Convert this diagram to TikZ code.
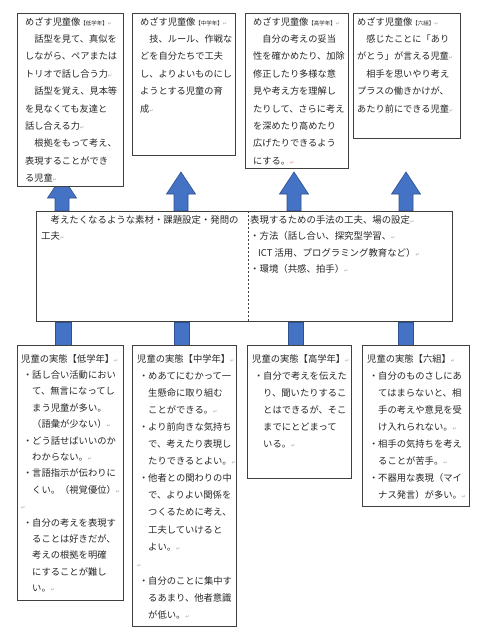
\documentclass[tikz,border=0pt]{standalone}
\usepackage{fontspec}
\newfontfamily\jp{Noto Sans CJK JP}
\newfontfamily\mkf{DejaVu Sans}
\usetikzlibrary{calc,backgrounds}
\definecolor{arrblue}{HTML}{4472C4}
\definecolor{arredge}{HTML}{2F528F}
\definecolor{boxline}{HTML}{404040}
\newcommand\pmk{{\mkf\fontsize{5}{5}\selectfont\textcolor{black!35}{↵}}}
\newcommand\pmkred{{\mkf\fontsize{5}{5}\selectfont\textcolor{red!60}{↵}}}
\newcommand\smk[1]{{\fontsize{5.5}{5.5}\selectfont #1}}
\newcommand\bl{\makebox[11pt][l]{\hspace{2pt}・}}
\newcommand\ind{\hspace*{11pt}}
\tikzset{
  box/.style={draw=boxline, line width=0.8pt, fill=white, inner sep=0pt, anchor=north west},
  ttxt/.style={anchor=north west, inner sep=0pt, align=left, text=black!85, font=\jp\fontsize{9.2}{17.4}\selectfont},
  btxt/.style={anchor=north west, inner sep=0pt, align=left, text=black!85, font=\jp\fontsize{9.3}{#1}\selectfont},
  btxt/.default=17,
  mtxt/.style={anchor=north west, inner sep=0pt, align=left, text=black!85, font=\jp\fontsize{9.4}{16.6}\selectfont},
  blockarrow/.style={fill=arrblue, draw=arredge, line width=0.6pt},
  upar/.pic={\filldraw[blockarrow] (-7,0) -- (-7,-17) -- (-14.5,-17) -- (0,-39) -- (14.5,-17) -- (7,-17) -- (7,0) -- cycle;},
  uparlow/.pic={\filldraw[blockarrow] (-7,0) -- (-7,-13) -- (-14.5,-13) -- (0,-35) -- (14.5,-13) -- (7,-13) -- (7,0) -- cycle;}
}
\begin{document}
\begin{tikzpicture}[x=1pt,y=-1pt]
\useasboundingbox (0,0) rectangle (483,640);
% top boxes
\node[box, minimum width=106pt, minimum height=173pt] (t1) at (17,13) {};
\node[box, minimum width=103pt, minimum height=142pt] (t2) at (132,13) {};
\node[box, minimum width=103pt, minimum height=155pt] (t3) at (245,13) {};
\node[box, minimum width=107pt, minimum height=125pt] (t4) at (353,13) {};
% middle box
\node[box, minimum width=416pt, minimum height=110pt] (mid) at (36,211) {};
\draw[boxline, line width=0.6pt, dash pattern=on 2pt off 2pt] ($(mid.north west)+(212,0)$) coordinate (dv1) -- ($(mid.south west)+(212,0)$) coordinate (dv2);
% bottom boxes
\node[box, minimum width=106pt, minimum height=255pt] (b5) at (17,345) {};
\node[box, minimum width=104pt, minimum height=281pt] (b6) at (132,345) {};
\node[box, minimum width=104pt, minimum height=133pt] (b7) at (247,345) {};
\node[box, minimum width=107pt, minimum height=161pt] (b8) at (362,345) {};

% arrows behind the boxes
\begin{scope}[on background layer]
\fill[white] (0,0) rectangle (483,640);
\pic at ($(mid.north west)+(26,0)$) {uparlow};
\pic at ($(mid.north west)+(145,0)$) {upar};
\pic at ($(mid.north west)+(258,0)$) {upar};
\pic at ($(mid.north west)+(370,0)$) {upar};
\filldraw[blockarrow] ($(mid.south west)+(19.5,0)$) rectangle ($(b5.north west)+(54,0)$);
\filldraw[blockarrow] ($(mid.south west)+(138.5,0)$) rectangle ($(b6.north west)+(57.5,0)$);
\filldraw[blockarrow] ($(mid.south west)+(252.5,0)$) rectangle ($(b7.north west)+(56.5,0)$);
\filldraw[blockarrow] ($(mid.south west)+(362.5,0)$) rectangle ($(b8.north west)+(51.5,0)$);
\end{scope}

% top texts
\node[ttxt] (t1x) at ($(t1.north west)+(8,4)$) {めざす児童像\smk{【低学年】}\pmk\\
　話型を見て、真似を\\
しながら、ペアまたは\\
トリオで話し合う力\pmk\\
　話型を覚え、見本等\\
を見なくても友達と\\
話し合える力\pmk\\
　根拠をもって考え、\\
表現することができ\\
る児童\pmk};
\node[ttxt] (t2x) at ($(t2.north west)+(8,4)$) {めざす児童像\smk{【中学年】}\pmk\\
　技、ルール、作戦な\\
どを自分たちで工夫\\
し、よりよいものにし\\
ようとする児童の育\\
成\pmk};
\node[ttxt] (t3x) at ($(t3.north west)+(8,4)$) {めざす児童像\smk{【高学年】}\pmk\\
　自分の考えの妥当\\
性を確かめたり、加除\\
修正したり多様な意\\
見や考え方を理解し\\
たりして、さらに考え\\
を深めたり高めたり\\
広げたりできるよう\\
にする。\pmkred};
\node[ttxt] (t4x) at ($(t4.north west)+(4,4)$) {めざす児童像\smk{【六組】}\pmk\\
　感じたことに「あり\\
がとう」が言える児童\pmk\\
　相手を思いやり考え\\
プラスの働きかけが、\\
あたり前にできる児童\pmk};

% middle texts
\node[mtxt] (mlx) at ($(mid.north west)+(5,4)$) {　考えたくなるような素材・課題設定・発問の\\
工夫\pmk};
\node[mtxt] (mrx) at ($(dv1)+(2,4)$) {表現するための手法の工夫、場の設定\pmk\\
・方法（話し合い、探究型学習、\pmk\\
\hspace*{8pt}ICT 活用、プログラミング教育など）\pmk\\
・環境（共感、拍手）\pmk};

% bottom texts
\node[btxt=16.4] (b5x) at ($(b5.north west)+(4,9)$) {児童の実態【低学年】\pmk\\
\bl 話し合い活動におい\\
\ind て、無言になってし\\
\ind まう児童が多い。\\
\ind （語彙が少ない）\pmk\\
\bl どう話せばいいのか\\
\ind わからない。\pmk\\
\bl 言語指示が伝わりに\\
\ind くい。（視覚優位）\pmk\\
\pmk\\
\bl 自分の考えを表現す\\
\ind ることは好きだが、\\
\ind 考えの根拠を明確\\
\ind にすることが難し\\
\ind い。\pmk};
\node[btxt=17.1] (b6x) at ($(b6.north west)+(5,9)$) {児童の実態【中学年】\pmk\\
\bl めあてにむかって一\\
\ind 生懸命に取り組む\\
\ind ことができる。\pmk\\
\bl より前向きな気持ち\\
\ind で、考えたり表現し\\
\ind たりできるとよい。\pmk\\
\bl 他者との関わりの中\\
\ind で、よりよい関係を\\
\ind つくるために考え、\\
\ind 工夫していけると\\
\ind よい。\pmk\\
\pmk\\
\bl 自分のことに集中す\\
\ind るあまり、他者意識\\
\ind が低い。\pmk};
\node[btxt=17] (b7x) at ($(b7.north west)+(5,9)$) {児童の実態【高学年】\pmk\\
\bl 自分で考えを伝えた\\
\ind り、聞いたりするこ\\
\ind とはできるが、そこ\\
\ind までにとどまって\\
\ind いる。\pmk};
\node[btxt=17] (b8x) at ($(b8.north west)+(5,9)$) {児童の実態【六組】\pmk\\
\bl 自分のものさしにあ\\
\ind てはまらないと、相\\
\ind 手の考えや意見を受\\
\ind け入れられない。\pmk\\
\bl 相手の気持ちを考え\\
\ind ることが苦手。\pmk\\
\bl 不器用な表現（マイ\\
\ind ナス発言）が多い。\pmk};
\end{tikzpicture}
\end{document}
